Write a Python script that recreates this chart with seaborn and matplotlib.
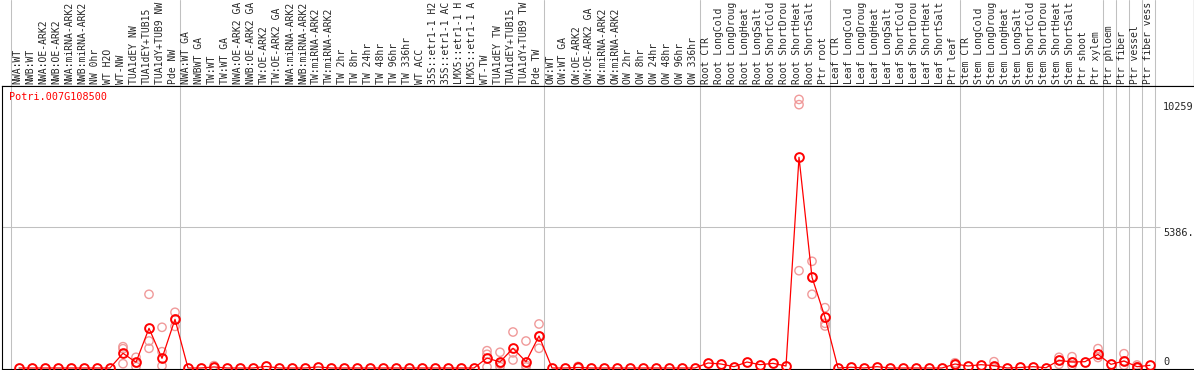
import numpy as np
import pandas as pd
import matplotlib
matplotlib.use("Agg")
import matplotlib.pyplot as plt
import seaborn as sns

# Expression profile of one gene across sample conditions
gene_id = "Potri.007G108500"

samples = [
    "NWA:WT", "NWB:WT", "NWA:OE-ARK2", "NWB:OE-ARK2", "NWA:miRNA-ARK2", "NWB:miRNA-ARK2",
    "NW 0hr", "WT H2O", "WT-NW", "TUA1dEY NW", "TUA1dEY+TUB15", "TUA1dY+TUB9 NW", "Pde NW",
    "NWA:WT GA", "NWBWT GA", "TW:WT", "TW:WT GA", "NWA:OE-ARK2 GA", "NWB:OE-ARK2 GA",
    "TW:OE-ARK2", "TW:OE-ARK2 GA", "NWA:miRNA-ARK2", "NWB:miRNA-ARK2", "TW:miRNA-ARK2",
    "TW:miRNA-ARK2", "TW 2hr", "TW 8hr", "TW 24hr", "TW 48hr", "TW 96hr", "TW 336hr",
    "WT ACC", "35S::etr1-1 H2", "35S::etr1-1 AC", "LMX5::etr1-1 H", "LMX5::etr1-1 A",
    "WT-TW", "TUA1dEY TW", "TUA1dEY+TUB15", "TUA1dY+TUB9 TW", "Pde TW",
    "OW:WT", "OW:WT GA", "OW:OE-ARK2", "OW:OE-ARK2 GA", "OW:miRNA-ARK2", "OW:miRNA-ARK2",
    "OW 2hr", "OW 8hr", "OW 24hr", "OW 48hr", "OW 96hr", "OW 336hr",
    "Root CTR", "Root LongCold", "Root LongDroug", "Root LongHeat", "Root LongSalt",
    "Root ShortCold", "Root ShortDrou", "Root ShortHeat", "Root ShortSalt", "Ptr root",
    "Leaf CTR", "Leaf LongCold", "Leaf LongDroug", "Leaf LongHeat", "Leaf LongSalt",
    "Leaf ShortCold", "Leaf ShortDrou", "Leaf ShortHeat", "Leaf ShortSalt", "Ptr leaf",
    "Stem CTR", "Stem LongCold", "Stem LongDroug", "Stem LongHeat", "Stem LongSalt",
    "Stem ShortCold", "Stem ShortDrou", "Stem ShortHeat", "Stem ShortSalt", "Ptr shoot",
    "Ptr xylem", "Ptr phloem", "Ptr fiber", "Ptr vessel", "Ptr fiber vess",
]

mean_expr = [
    0, 0, 0, 0, 0, 0, 0, 0, 562, 218, 1517, 370, 1860,
    0, 0, 40, 0, 0, 0, 60, 0, 0, 0, 40, 0, 0, 0, 0, 0, 0, 0,
    0, 0, 0, 0, 0, 382, 229, 753, 241, 1222,
    0, 0, 20, 0, 0, 0, 0, 0, 0, 0, 0, 0,
    191, 153, 50, 229, 127, 178, 76, 8049, 3465, 1937,
    0, 30, 0, 50, 0, 0, 0, 0, 0, 153,
    76, 127, 88, 0, 20, 50, 10, 293, 229, 241,
    520, 140, 267, 50, 103,
]

# individual replicates that stand apart from the mean
rep_index = [8, 9, 10, 11, 12, 15, 36, 37, 38, 39, 40, 43, 60, 61, 62, 72, 75, 80, 81, 83, 85, 86]
rep_a = [814, 409, 2815, 1555, 2128, 90, 661, 600, 1375, 1031, 1681, 60, 10259, 4076, 2304, 200, 241, 409, 432, 740, 546, 115]
rep_b = [737, 195, 1031, 623, 1590, 20, 523, 150, 580, 103, 753, 0, 10060, 3465, 1708, 140, 40, 293, 229, 400, 267, 50]
rep_c = [164, 50, 752, 80, 1860, 10, 38, 50, 306, 38, 1222, 0, 3717, 2815, 1604, 120, 0, 140, 88, 520, 103, 0]

# first sample of each block (gray separators)
group_starts = [0, 13, 41, 53, 63, 73, 84, 85, 86, 87, 88]

sns.set_style("white")
plt.rcParams["font.family"] = ["DejaVu Sans Mono"]

W, H = 1194, 370
fig = plt.figure(figsize=(W / 100, H / 100), dpi=100)
ax_head = fig.add_axes([1.5 / W, 1 - 86 / H, 1 - 1.5 / W, 86 / H])
ax = fig.add_axes([1.5 / W, 1 / H, 1 - 1.5 / W, 283 / H])

pos = np.arange(len(samples))
df_mean = pd.DataFrame({"pos": pos, "expr": mean_expr})
df_rep = pd.DataFrame({
    "pos": rep_index * 3,
    "expr": rep_a + rep_b + rep_c,
})

top_val = max(max(mean_expr), max(rep_a + rep_b + rep_c))
ymax = top_val * 1.05
mid = ymax / 2

grid_col = "#c0c0c0"
xlo, xhi = (1.5 - 19) / 13, (W - 19) / 13
for b in group_starts:
    ax.axvline(b - 0.64, color=grid_col, lw=0.75, zorder=0)
    ax_head.axvline(b - 0.64, color=grid_col, lw=0.75, zorder=0)
ax.hlines(mid, xlo, 87.75, color=grid_col, lw=0.75, zorder=0)

sns.scatterplot(data=df_rep, x="pos", y="expr", ax=ax, marker="o", s=36,
                color="#f09a9a", facecolor="none", edgecolor="#f09a9a",
                linewidth=1.0, zorder=2)
sns.lineplot(data=df_mean, x="pos", y="expr", ax=ax, color="red", lw=0.9,
             marker="o", markersize=6.3, markerfacecolor="none",
             markeredgecolor="red", markeredgewidth=1.4, zorder=3)

ax.set_xlim(xlo, xhi)
ax.set_ylim(-ymax / 282, ymax)
ax.set_xticks([])
ax.set_yticks([])
ax.set_xlabel("")
ax.set_ylabel("")
for side in ["left", "top", "bottom"]:
    ax.spines[side].set_color("black")
    ax.spines[side].set_linewidth(0.8)
ax.spines["right"].set_visible(False)

ax.text(0.0063, 0.962, gene_id, transform=ax.transAxes, color="red",
        fontsize=7.3, ha="left", va="center")
ax.annotate(str(int(top_val)), (88, top_val), xytext=(0, -3),
            textcoords="offset pixels", fontsize=7.4, ha="left", va="top")
ax.annotate(f"{mid:.1f}"[:5], (88, mid), xytext=(0, -1),
            textcoords="offset pixels", fontsize=7.4, ha="left", va="top")
ax.annotate("0", (88, 0), xytext=(0, 1),
            textcoords="offset pixels", fontsize=7.4, ha="left", va="bottom")

ax_head.set_xlim(xlo, xhi)
ax_head.set_ylim(0, 86)
ax_head.set_xticks([])
ax_head.set_yticks([])
for side in ["left", "top"]:
    ax_head.spines[side].set_visible(False)
for side in ["right", "bottom"]:
    ax_head.spines[side].set_color("black")
    ax_head.spines[side].set_linewidth(0.8)
for i, s in enumerate(samples):
    ax_head.text(i - 0.15, 2.5, s, rotation=90, fontsize=7.0,
                 ha="center", va="bottom")

fig.savefig("out.png", dpi=100)
